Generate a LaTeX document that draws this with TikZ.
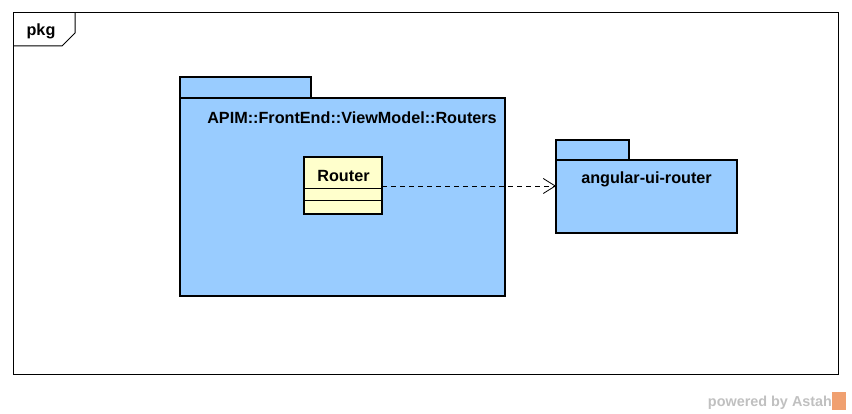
\documentclass[tikz,border=0pt]{standalone}
\usepackage{fontspec}
\setmainfont{Liberation Sans}
\usepackage{xcolor}
\usetikzlibrary{arrows.meta,positioning,calc}
\definecolor{pkgblue}{RGB}{153,204,255}
\definecolor{classyellow}{RGB}{255,255,204}
\definecolor{markgray}{RGB}{192,192,192}
\definecolor{markorange}{RGB}{240,160,112}

\begin{document}
\begin{tikzpicture}[x=1pt, y=-1pt,
  every node/.style={font=\fontsize{16.2}{19}\selectfont\bfseries, inner sep=0pt, outer sep=0pt},
  pkgbody/.style={draw, fill=pkgblue, line width=2.8pt, anchor=north west},
  pkgtab/.style={draw, fill=pkgblue, line width=2.8pt, anchor=south west},
  classbox/.style={draw, fill=classyellow, line width=2.8pt, anchor=north west, minimum width=78pt, minimum height=57pt},
  umltext/.style={anchor=base},
  dep/.style={dash pattern=on 5pt off 4pt, -{Straight Barb[length=12pt,width=15pt]}, line width=0.8pt},
]
\useasboundingbox (0,0) rectangle (852,414);
% outer frame with its name tab
\node[draw, line width=1pt, anchor=north west, minimum width=825pt, minimum height=361pt] (frame) at (13,13) {};
\draw[line width=1pt] (13,46) -- (62,46) -- (75,33) -- (75,13);
\node[umltext] (framename) at (41,36) {pkg};

% package APIM::FrontEnd::ViewModel::Routers
\node[pkgbody, minimum width=325pt, minimum height=198pt] (routers) at (180,98) {};
\node[pkgtab, minimum width=131pt, minimum height=21pt] (routerstab) at (routers.north west) {};
\node[umltext] (routersname) at (352,124) {APIM::FrontEnd::ViewModel::Routers};

% class Router
\node[classbox] (router) at (304,157) {};
\node[umltext] (routername) at (343.5,182) {Router};
\draw[line width=1pt] (304,188.5) -- (382,188.5);
\draw[line width=1pt] (304,200.5) -- (382,200.5);

% package angular-ui-router
\node[pkgbody, minimum width=181pt, minimum height=73pt] (uirouter) at (556,160) {};
\node[pkgtab, minimum width=73pt, minimum height=20pt] (uiroutertab) at (uirouter.north west) {};
\node[umltext] (uiroutername) at (646.5,184) {angular-ui-router};

\draw[dep] (router.east |- 0,186) -- (uirouter.west |- 0,186);

% watermark
\node[umltext, text=markgray, font=\fontsize{14.4}{17}\selectfont\bfseries] (mark) at (770,406) {powered by Astah};
\fill[markorange] (832,392) rectangle (846,410);
\end{tikzpicture}
\end{document}
